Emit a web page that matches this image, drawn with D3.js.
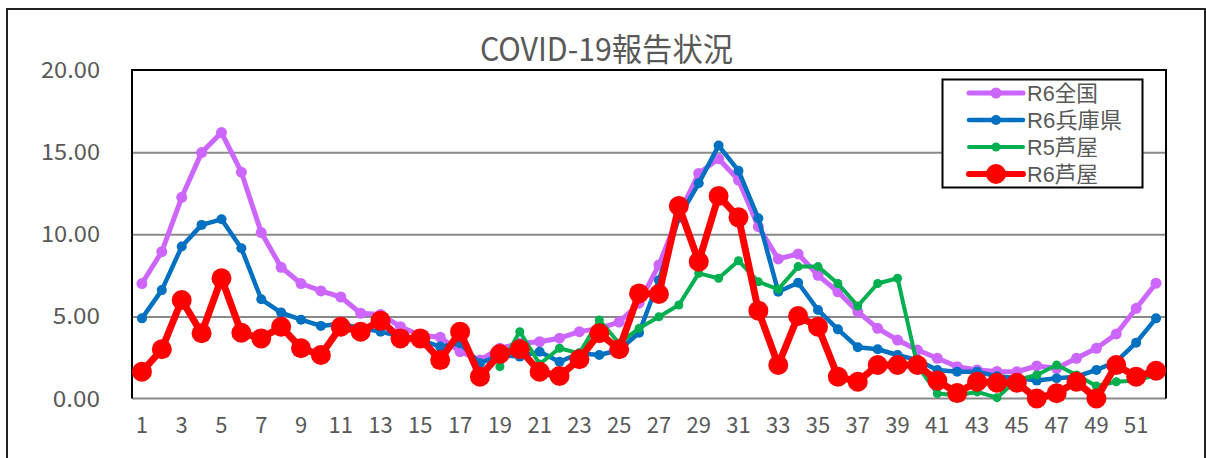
<!DOCTYPE html>
<html>
<head>
<meta charset="utf-8">
<script src="https://cdn.jsdelivr.net/npm/d3@7"></script>
<style>
  body { margin: 0; background: #fff; }
  svg text { font-family: "Noto Sans CJK JP", "DejaVu Sans", sans-serif; fill: #595959; }
  svg text.legendText { font-family: "Liberation Sans", "Noto Sans CJK JP", sans-serif; }
</style>
</head>
<body>
<div id="chart"></div>
<script>
// COVID-19 weekly report chart (per sentinel, week 1..52)

const weeks = d3.range(1, 53);
const xTickWeeks = weeks.filter(w => w % 2 === 1);
const yTicks = [0, 5, 10, 15, 20];

const seriesNames = ["R6全国", "R6兵庫県", "R5芦屋", "R6芦屋"];
const seriesColors = ["#CC66FF", "#0070C0", "#00B050", "#FF0000"];

const r6Zenkoku = [7.0, 8.94, 12.25, 14.97, 16.19, 13.78, 10.1, 7.99, 7.0, 6.55,
    6.18, 5.19, 5.12, 4.37, 3.85, 3.73, 2.85, 2.34, 3.06, 3.36,
    3.46, 3.67, 4.07, 4.27, 4.65, 5.8, 8.13, 11.2, 13.7, 14.6,
    13.3, 10.46, 8.5, 8.8, 7.5, 6.5, 5.29, 4.27, 3.56, 2.95,
    2.45, 1.94, 1.74, 1.65, 1.63, 1.98, 1.84, 2.45, 3.06, 3.93, 5.49, 7.02];

const r6Hyogo = [4.88, 6.6, 9.25, 10.57, 10.91, 9.15, 6.04, 5.23, 4.8, 4.42,
    4.55, 4.27, 4.07, 3.77, 3.56, 3.16, 3.36, 2.14, 2.65, 2.55,
    2.85, 2.24, 2.75, 2.65, 2.95, 4.0, 7.2, 11.0, 13.1, 15.4,
    13.87, 10.97, 6.5, 7.05, 5.39, 4.21, 3.12, 3.0, 2.65, 2.34,
    1.74, 1.63, 1.63, 1.35, 1.25, 1.09, 1.23, 1.33, 1.74, 2.24, 3.4, 4.88];

// R5 starts at week 19
const r5Ashiya = [null, null, null, null, null, null, null, null, null, null,
    null, null, null, null, null, null, null, null, 1.94, 4.07,
    2.1, 3.06, 2.75, 4.78, 3.36, 4.27, 4.98, 5.69, 7.62, 7.32,
    8.39, 7.11, 6.65, 8.03, 8.03, 7.0, 5.63, 7.0, 7.32, 2.0,
    0.3, 0.2, 0.4, 0.05, 1.13, 1.43, 2.04, 1.43, 0.76, 1.02, 1.1, 1.43];

const r6Ashiya = [1.63, 3.0, 6.0, 3.97, 7.32, 4.0, 3.66, 4.37, 3.06, 2.65,
    4.37, 4.07, 4.74, 3.66, 3.66, 2.34, 4.07, 1.33, 2.71, 3.0,
    1.63, 1.37, 2.39, 3.97, 3.0, 6.4, 6.36, 11.72, 8.33, 12.33,
    11.03, 5.35, 2.04, 5.02, 4.37, 1.33, 1.02, 2.04, 2.04, 2.04,
    1.09, 0.33, 1.02, 0.96, 0.96, 0.0, 0.32, 1.02, 0.0, 2.04, 1.33, 1.69];

const allSeries = [r6Zenkoku, r6Hyogo, r5Ashiya, r6Ashiya];
const lineWidths = [5, 4.5, 4, 7];
const markerR = [5.5, 5, 4.5, 10];

const W = 1206, H = 458;
const plot = {left: 132, right: 1166, top: 70, bottom: 398.5};

const svg = d3.select("#chart").append("svg")
    .attr("width", W).attr("height", H);

// outer frame (bottom edge runs off the picture)
svg.append("rect")
    .attr("x", 7).attr("y", 9)
    .attr("width", 1198).attr("height", 470)
    .attr("fill", "none")
    .attr("stroke", "#222")
    .attr("stroke-width", 2);

// title
svg.append("text")
    .attr("x", 480).attr("y", 61)
    .attr("font-size", 32)
    .attr("textLength", 253)
    .attr("lengthAdjust", "spacingAndGlyphs")
    .text("COVID-19報告状況");

const x = d3.scaleLinear()
    .domain([0.5, 52.5])
    .range([plot.left, plot.right]);
const y = d3.scaleLinear()
    .domain([0, 20])
    .range([plot.bottom, plot.top]);

// gridlines
svg.append("g")
    .attr("transform", "translate(" + plot.left + ",0)")
    .call(d3.axisLeft(y).tickValues(yTicks.filter(t => t > 0 && t < 20))
        .tickSize(-(plot.right - plot.left)).tickFormat(""))
    .call(g => g.select(".domain").remove())
    .call(g => g.selectAll("line").attr("stroke", "#898989").attr("stroke-width", 2));

// zero line gray, other three sides black
svg.append("line")
    .attr("x1", plot.left).attr("x2", plot.right)
    .attr("y1", y(0)).attr("y2", y(0))
    .attr("stroke", "#898989").attr("stroke-width", 2);
svg.append("path")
    .attr("d", "M" + plot.left + "," + y(0) + "V" + plot.top + "H" + plot.right + "V" + y(0))
    .attr("fill", "none").attr("stroke", "#000").attr("stroke-width", 2);

// y axis labels
svg.append("g").selectAll("text")
    .data(yTicks)
    .enter().append("text")
    .attr("x", 100)
    .attr("y", d => y(d) + 8)
    .attr("text-anchor", "end")
    .attr("font-size", 22)
    .attr("textLength", d => d3.format(".2f")(d).length * 11.8)
    .attr("lengthAdjust", "spacingAndGlyphs")
    .text(d => d3.format(".2f")(d));

// x axis labels
svg.append("g").selectAll("text")
    .data(xTickWeeks)
    .enter().append("text")
    .attr("x", d => x(d))
    .attr("y", 433)
    .attr("text-anchor", "middle")
    .attr("font-size", 22)
    .text(d => d);

// lines + markers, drawn in series order
const lineGen = d3.line()
    .defined(d => d.v !== null)
    .x(d => x(d.w))
    .y(d => y(d.v));

allSeries.forEach((vals, i) => {
    let pts = weeks.map((w, j) => ({w: w, v: vals[j]}));
    let g = svg.append("g");
    g.append("path")
        .attr("d", lineGen(pts))
        .attr("fill", "none")
        .attr("stroke", seriesColors[i])
        .attr("stroke-width", lineWidths[i])
        .attr("stroke-linejoin", "round");
    g.selectAll("circle")
        .data(pts.filter(d => d.v !== null))
        .enter().append("circle")
        .attr("cx", d => x(d.w))
        .attr("cy", d => y(d.v))
        .attr("r", markerR[i])
        .attr("fill", seriesColors[i]);
});

// legend
const legend = svg.append("g");
legend.append("rect")
    .attr("x", 942.5).attr("y", 79.5)
    .attr("width", 200).attr("height", 108)
    .attr("fill", "#fff")
    .attr("stroke", "#000").attr("stroke-width", 2);

const legendWidths = [71, 95, 71, 71];
seriesNames.forEach((name, i) => {
    let cy = 93 + i * 27;
    legend.append("line")
        .attr("x1", 969).attr("x2", 1023)
        .attr("y1", cy).attr("y2", cy)
        .attr("stroke", seriesColors[i])
        .attr("stroke-width", Math.min(lineWidths[i], 6))
        .attr("stroke-linecap", "round");
    legend.append("circle")
        .attr("cx", 996).attr("cy", cy)
        .attr("r", markerR[i])
        .attr("fill", seriesColors[i]);
    legend.append("text")
        .attr("class", "legendText")
        .attr("x", 1027).attr("y", cy + 8)
        .attr("font-size", 22)
        .attr("textLength", legendWidths[i])
        .attr("lengthAdjust", "spacingAndGlyphs")
        .text(name);
});
</script>
</body>
</html>
